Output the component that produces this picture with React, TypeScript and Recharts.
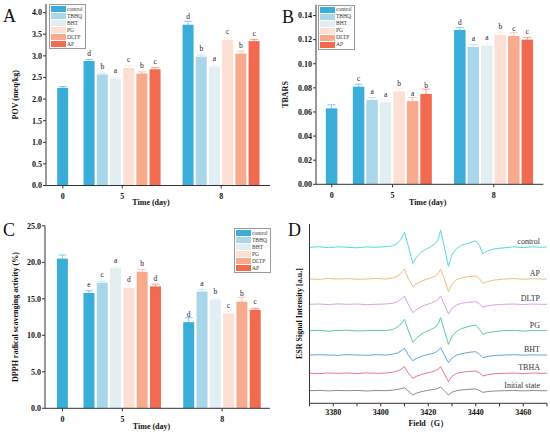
import React from "react";
import {
  BarChart,
  Bar,
  XAxis,
  YAxis,
  ErrorBar,
  LabelList,
  Legend,
  LineChart,
  Line,
} from "recharts";

const SERIF = '"Liberation Serif", "Times New Roman", serif';

// treatments and storage days
const series = ["control", "TBHQ", "BHT", "PG", "DLTP", "AP"];
const dayLabels = ["0", "5", "8"];

// A: POV (meq/kg)
const povDay0 = 2.26;
const povDay5 = [2.88, 2.57, 2.47, 2.72, 2.59, 2.69];
const povDay8 = [3.72, 2.98, 2.75, 3.37, 3.05, 3.34];
const povErr0 = 0.03;
const povErr5 = [0.04, 0.03, 0.03, 0.05, 0.04, 0.04];
const povErr8 = [0.08, 0.04, 0.03, 0.05, 0.06, 0.04];
const povSig5 = ["d", "b", "a", "c", "b", "c"];
const povSig8 = ["d", "b", "a", "c", "b", "c"];
const povTicks = [0, 0.5, 1, 1.5, 2, 2.5, 3, 3.5, 4];

// B: TBARS
const tbaDay0 = 0.063;
const tbaDay5 = [0.081, 0.07, 0.068, 0.077, 0.069, 0.075];
const tbaDay8 = [0.128, 0.114, 0.115, 0.124, 0.123, 0.12];
const tbaErr0 = 0.003;
const tbaErr5 = [0.002, 0.002, 0.002, 0.003, 0.003, 0.004];
const tbaErr8 = [0.002, 0.002, 0.002, 0.002, 0.003, 0.002];
const tbaSig5 = ["c", "a", "a", "b", "a", "b"];
const tbaSig8 = ["d", "a", "a", "b", "c", "c"];
const tbaTicks = [0, 0.02, 0.04, 0.06, 0.08, 0.1, 0.12, 0.14];

// C: DPPH radical scavenging activity (%)
const dpDay0 = 20.5;
const dpDay5 = [15.8, 17.2, 19.2, 16.5, 18.7, 16.7];
const dpDay8 = [11.8, 16.0, 14.9, 13.0, 14.6, 13.5];
const dpErr0 = 0.5;
const dpErr5 = [0.3, 0.2, 0.2, 0.5, 0.3, 0.3];
const dpErr8 = [0.6, 0.3, 0.2, 0.3, 0.6, 0.2];
const dpSig5 = ["e", "c", "a", "d", "b", "d"];
const dpSig8 = ["d", "a", "b", "c", "b", "c"];
const dpTicks = [0, 5, 10, 15, 20, 25];

// D: ESR spectra, signal read as height above each trace's baseline
const esrSamples = ["control", "AP", "DLTP", "PG", "BHT", "TBHA", "Initial state"];
const esrField = [
  3370, 3374, 3378, 3382, 3386, 3390, 3394, 3398, 3402, 3405, 3407, 3408.5, 3410, 3411.5,
  3413.5, 3415, 3417, 3419, 3421, 3423, 3424.2, 3425.2, 3426.8, 3428.5, 3430, 3432, 3434,
  3436, 3438, 3440, 3441.5, 3443, 3445, 3448, 3452, 3456, 3460, 3464, 3467, 3470,
];
const esrBaseline = [156, 124.3, 99, 72.6, 48.3, 30, 12.6];
const esrControl = [0, 0.6, -0.4, 0.5, 0, -0.5, 0.4, 0, 0.6, 1.5, 4, 8, 15, 2, -16, -10, -5, -2, 0.5, 4, 8, 17, 0, -19, -7, -1, 2, 3.5, 5, 6.5, 2, -6.5, -3.5, -1.5, -0.5, 0.4, -0.3, 0.5, 0, 0.3];
const esrAP = [0, -0.4, 0.5, 0, 0.4, -0.3, 0, 0.5, 0, 1, 3, 5.5, 9.7, 1, -7.7, -5, -2.5, -0.5, 1, 3, 5.5, 9.7, 0, -12.7, -5, -0.5, 1, 2, 2.6, 3, 0.5, -4.3, -2.5, -1, 0, 0.4, -0.3, 0.3, 0, -0.2];
const esrDLTP = [0, 0.3, -0.3, 0.4, 0, 0.3, -0.4, 0, 0.3, 1, 2.5, 5, 8.3, 0.5, -8.3, -5.5, -2.5, -0.5, 1, 3, 5, 8.3, -0.5, -9.7, -4, -0.5, 1, 1.8, 2.3, 2.7, 0.5, -2.7, -1.5, -0.5, 0, 0.3, -0.2, 0.3, 0, 0];
const esrPG = [0, 0.4, -0.5, 0.3, 0.5, -0.3, 0, 0.4, 0, 1.2, 3.5, 6.5, 11.3, 1, -11.7, -7.5, -3.5, -1, 1, 3.5, 7, 13, 0, -13.7, -5.5, -0.5, 2, 3.5, 4.8, 5.7, 1.5, -3.7, -2, -0.8, 0, 0.4, -0.4, 0.3, 0, 0.2];
const esrBHT = [0, 0.3, 0, -0.3, 0.4, 0, -0.3, 0.3, 0, 0.8, 2, 4, 6.7, 0.5, -5.7, -3.5, -1.5, 0, 1, 2.5, 4.5, 7.3, 0, -7.7, -3, 0, 1.2, 2.2, 2.9, 3.3, 0.8, -2.7, -1.5, -0.5, 0, 0.3, -0.2, 0.2, 0, 0];
const esrTBHA = [0, -0.3, 0.3, 0, 0.3, -0.2, 0.4, 0, 0.3, 1, 2.2, 4, 6.7, 0.5, -5, -3, -1.3, 0, 1, 2.5, 4.2, 6.7, -0.5, -8.3, -3, 0, 1, 1.6, 2, 2.3, 0.5, -2.7, -1.3, -0.4, 0, 0.3, -0.2, 0.3, 0, 0];
const esrInitial = [0, 0.3, -0.2, 0.3, 0, 0.3, -0.3, 0.2, 0, 0.5, 1.2, 2, 3, 0, -4.3, -2.5, -1, 0, 0.8, 1.5, 2.5, 3.7, 0, -4.3, -1.5, 0, 0.8, 1.2, 1.5, 1.7, 0.3, -1.7, -0.8, -0.3, 0, 0.2, -0.2, 0.2, 0, 0];
const esrTicks = [3370, 3380, 3390, 3400, 3410, 3420, 3430, 3440, 3450, 3460, 3470];
const esrTickLabels = [3380, 3400, 3420, 3440, 3460];

const barColors = ["#3AADD8", "#A9D7E9", "#E1EEF2", "#FDDFD4", "#F8AA8D", "#F26A4F"];
const esrColors = ["#2AD0D0", "#E6AE5E", "#CB8BDF", "#2FBD8C", "#3B8ED6", "#E8546C", "#6E6E6E"];

// bar slots: one bar every two slots, the day-0 bar alone at the left
const SLOT_COUNT = 30;
const slotFor = (day: number, i: number) => (day === 0 ? 0 : day === 1 ? 4 + 2 * i : 19 + 2 * i);
const tickSlots = ["s0", "s9", "s24"];

function buildRows(
  v0: number, v5: number[], v8: number[],
  e0: number, e5: number[], e8: number[],
  l5: string[], l8: string[]
) {
  const rows: Record<string, any>[] = Array.from({ length: SLOT_COUNT }, (_, k) => ({ slot: `s${k}` }));
  const put = (slot: number, i: number, v: number, e: number, l?: string) => {
    const k = series[i];
    rows[slot][k] = v;
    rows[slot][k + "_e"] = e;
    if (l) rows[slot][k + "_l"] = l;
  };
  put(slotFor(0, 0), 0, v0, e0);
  v5.forEach((v, i) => put(slotFor(1, i), i, v, e5[i], l5[i]));
  v8.forEach((v, i) => put(slotFor(2, i), i, v, e8[i], l8[i]));
  return rows;
}

const povRows = buildRows(povDay0, povDay5, povDay8, povErr0, povErr5, povErr8, povSig5, povSig8);
const tbaRows = buildRows(tbaDay0, tbaDay5, tbaDay8, tbaErr0, tbaErr5, tbaErr8, tbaSig5, tbaSig8);
const dpRows = buildRows(dpDay0, dpDay5, dpDay8, dpErr0, dpErr5, dpErr8, dpSig5, dpSig8);

const esrSignals = [esrControl, esrAP, esrDLTP, esrPG, esrBHT, esrTBHA, esrInitial];
const esrRows = esrField.map((f, j) => {
  const r: Record<string, number> = { field: f };
  esrSamples.forEach((s, i) => (r[s] = esrBaseline[i] + esrSignals[i][j]));
  return r;
});

const axisStroke = "#333";
const tickStyle = { fontFamily: SERIF, fontSize: 8, fontWeight: 700, fill: "#111" };
const titleStyle = { fontFamily: SERIF, fontSize: 8, fontWeight: 700, fill: "#111" };

const wideBar = (w: number) => (p: any) => {
  if (!p.height || p.height <= 0) return <g />;
  return <rect x={p.x + p.width / 2 - w / 2} y={p.y} width={w} height={p.height} fill={p.fill} />;
};

// significance letter above a bar
const sigLetter = (lp: any) => {
  if (lp.value == null || lp.value === "") return null;
  const vb = lp.viewBox ?? lp;
  const x = (vb.x ?? lp.x) + (vb.width ?? lp.width ?? 0) / 2;
  const y = vb.y ?? lp.y;
  return (
    <text x={x} y={y - 5.5} textAnchor="middle" fontFamily={SERIF} fontSize={7.5} fill="#222">
      {lp.value}
    </text>
  );
};

const BoxLegend = ({ payload }: any) => {
  const items = [...(payload || [])].sort((a: any, b: any) => series.indexOf(a.value) - series.indexOf(b.value));
  return (
    <div
      style={{
        display: "inline-block",
        border: "0.7px solid #999",
        background: "#fff",
        padding: "0.5px 2px 0.5px 0.5px",
        fontFamily: SERIF,
        fontSize: 5.5,
        color: "#333",
      }}
    >
      {items.map((e: any) => (
        <div key={e.value} style={{ display: "flex", alignItems: "center", height: 7 }}>
          <span style={{ width: 15, height: 6.2, background: e.color, marginRight: 1.5 }} />
          <span style={{ lineHeight: "7px" }}>{e.value}</span>
        </div>
      ))}
    </div>
  );
};

type BarPanelProps = {
  rows: Record<string, any>[];
  width: number;
  height: number;
  margin: { top: number; right: number; bottom: number; left: number };
  yWidth: number;
  xHeight: number;
  pad: { left: number; right: number };
  domain: [number, number];
  ticks: number[];
  digits: number;
  yTitle: string;
  yTitleOffset: number;
  xTitleDx: number;
  xTitleOffset: number;
  barW: number;
  legendPos: { left: number; top: number };
};

function BarPanel(p: BarPanelProps) {
  return (
    <BarChart width={p.width} height={p.height} data={p.rows} margin={p.margin}>
      <XAxis
        dataKey="slot"
        type="category"
        ticks={tickSlots}
        interval={0}
        tickFormatter={(s: string) => dayLabels[tickSlots.indexOf(s)]}
        padding={p.pad}
        height={p.xHeight}
        tickSize={3}
        tickMargin={5}
        tick={tickStyle}
        stroke={axisStroke}
        label={{ value: "Time (day)", position: "insideBottom", offset: p.xTitleOffset, dx: p.xTitleDx, style: titleStyle }}
      />
      <XAxis xAxisId="top" dataKey="slot" orientation="top" height={0} tick={false} tickLine={false} stroke={axisStroke} />
      <YAxis
        domain={p.domain}
        ticks={p.ticks}
        allowDataOverflow
        width={p.yWidth}
        tickSize={3}
        tickMargin={1}
        tick={tickStyle}
        tickFormatter={(v: number) => v.toFixed(p.digits)}
        stroke={axisStroke}
        label={{ value: p.yTitle, angle: -90, position: "insideLeft", offset: p.yTitleOffset, style: { ...titleStyle, textAnchor: "middle" } }}
      />
      <YAxis yAxisId="right" orientation="right" domain={p.domain} width={0} tick={false} tickLine={false} stroke={axisStroke} />
      <Legend
        content={<BoxLegend />}
        layout="horizontal"
        verticalAlign="middle"
        align="center"
        wrapperStyle={{ left: p.legendPos.left, top: p.legendPos.top, width: "auto" }}
      />
      {series.map((s, i) => (
        <Bar key={s} dataKey={s} name={s} stackId="t" fill={barColors[i]} shape={wideBar(p.barW)} isAnimationActive={false}>
          <ErrorBar dataKey={s + "_e"} width={4} stroke={barColors[i]} strokeWidth={0.6} />
          <LabelList dataKey={s + "_l"} content={sigLetter} />
        </Bar>
      ))}
    </BarChart>
  );
}

function EsrPanel() {
  const last = esrField.length - 1;
  return (
    <LineChart width={275} height={218} data={esrRows} margin={{ top: 9, right: 3, bottom: 5.7, left: 5 }}>
      <XAxis
        dataKey="field"
        type="number"
        domain={[3370, 3470]}
        allowDataOverflow
        ticks={esrTicks}
        interval={0}
        tickFormatter={(v: number) => (esrTickLabels.includes(v) ? String(v) : "")}
        height={24}
        tickSize={3}
        tickMargin={3}
        tick={tickStyle}
        stroke={axisStroke}
        label={{ value: "Field（G）", position: "insideBottom", offset: 1.8, style: titleStyle }}
      />
      <XAxis xAxisId="top" dataKey="field" type="number" domain={[3370, 3470]} orientation="top" height={0} tick={false} tickLine={false} stroke={axisStroke} />
      <YAxis
        domain={[0, 179.3]}
        allowDataOverflow
        width={29.5}
        tick={false}
        tickLine={false}
        stroke={axisStroke}
        label={{ value: "ESR Signal Intensity [a.u.]", angle: -90, position: "insideLeft", offset: 19, style: { ...titleStyle, textAnchor: "middle" } }}
      />
      <YAxis yAxisId="right" orientation="right" domain={[0, 179.3]} width={0} tick={false} tickLine={false} stroke={axisStroke} />
      {esrSamples.map((s, i) => (
        <Line key={s} dataKey={s} stroke={esrColors[i]} strokeWidth={0.8} dot={false} isAnimationActive={false}>
          <LabelList
            dataKey={s}
            content={(lp: any) => {
              if (lp.index !== last) return null;
              const x = lp.x ?? lp.viewBox?.x;
              const y = lp.y ?? lp.viewBox?.y;
              return (
                <text x={x - 7} y={y - 3} textAnchor="end" fontFamily={SERIF} fontSize={8} fill="#333">
                  {s}
                </text>
              );
            }}
          />
        </Line>
      ))}
    </LineChart>
  );
}

const at = (left: number, top: number): React.CSSProperties => ({ position: "absolute", left, top });

export default function App() {
  return (
    <div style={{ position: "absolute", left: 0, top: 0, width: 550, height: 433, background: "#fff", overflow: "hidden" }}>
      <div style={at(0, 0)}>
        <BarPanel
          rows={povRows}
          width={275}
          height={215}
          margin={{ top: 4, right: 5, bottom: 7.5, left: 6 }}
          yWidth={40}
          xHeight={22}
          pad={{ left: 13.5, right: 12.5 }}
          domain={[0, 4.2]}
          ticks={povTicks}
          digits={1}
          yTitle="POV (meq/kg)"
          yTitleOffset={9}
          xTitleDx={-7}
          xTitleOffset={2.5}
          barW={11}
          legendPos={{ left: 49, top: 4 }}
        />
      </div>
      <div style={at(275, 0)}>
        <BarPanel
          rows={tbaRows}
          width={275}
          height={215}
          margin={{ top: 4.7, right: 6.7, bottom: 8.7, left: 5 }}
          yWidth={36}
          xHeight={22}
          pad={{ left: 12.4, right: 12.4 }}
          domain={[0, 0.149]}
          ticks={tbaTicks}
          digits={2}
          yTitle="TBARS"
          yTitleOffset={5}
          xTitleDx={-2}
          xTitleOffset={1}
          barW={11.5}
          legendPos={{ left: 43, top: 4.7 }}
        />
      </div>
      <div style={at(0, 215)}>
        <BarPanel
          rows={dpRows}
          width={275}
          height={218}
          margin={{ top: 10.8, right: 5, bottom: 2.7, left: 5 }}
          yWidth={40}
          xHeight={22}
          pad={{ left: 14.2, right: 11.3 }}
          domain={[0, 25]}
          ticks={dpTicks}
          digits={1}
          yTitle="DPPH radical scavenging activity (%)"
          yTitleOffset={10}
          xTitleDx={-6}
          xTitleOffset={1.8}
          barW={11}
          legendPos={{ left: 234, top: 13 }}
        />
      </div>
      <div style={at(275, 215)}>
        <EsrPanel />
      </div>
      <svg width={550} height={433} style={{ position: "absolute", left: 0, top: 0, pointerEvents: "none" }}>
        <g fontFamily={SERIF} fontSize={18} fill="#111">
          <text x={3} y={22}>A</text>
          <text x={282} y={23}>B</text>
          <text x={3} y={235.5}>C</text>
          <text x={288} y={236}>D</text>
        </g>
      </svg>
    </div>
  );
}
